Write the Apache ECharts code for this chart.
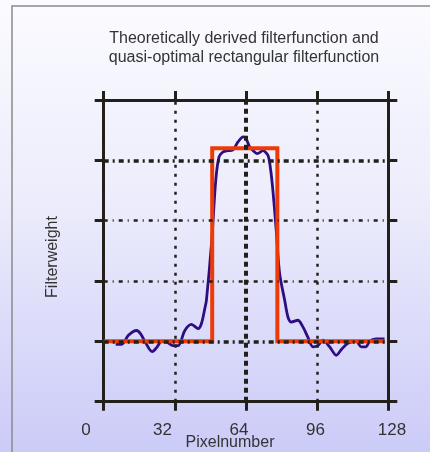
<!DOCTYPE html>
<html lang="en">
<head>
    <meta charset="UTF-8">
    <title>Filterfunction</title>
    <script src="https://cdn.jsdelivr.net/npm/echarts@6/dist/echarts.min.js"></script>
    <style>
        body { margin: 0; padding: 0; }
        #chart {
            width: 430px;
            height: 452px;
            background: linear-gradient(to bottom, #fbfbff 0%, #ececfc 45%, #cbcbf8 100%);
        }
    </style>
</head>
<body>
    <div id="chart"></div>
    <script>
        // data
        var xTicks = [0, 32, 64, 96, 128];
        var gridX = [32, 64, 96];
        var gridY = [0, 1, 2, 3];

        // theoretically derived filterfunction
        var theoX = [5.4, 8.1, 11.1, 14.8, 16.7, 18.5, 21.8, 23.9, 26.0, 28.3, 31.2, 33.5, 36.5, 39.5, 42.5, 44.0,
            45.5, 46.2, 48.6, 50.4, 51.9, 53.7, 55.8, 58.0, 60.3, 62.7, 63.9, 65.7, 67.5, 69.1, 71.6, 73.9,
            75.1, 76.1, 77.6, 79.1, 81.4, 82.9, 84.4, 87.3, 89.6, 91.8, 94.1, 96.3, 98.6, 101.6, 104.6, 107.0,
            109.8, 113.6, 115.8, 118.0, 119.5, 122.5, 126.3];
        var theoY = [-0.05, -0.05, 0.10, 0.18, 0.12, 0.00, -0.17, -0.10, 0.00, -0.01, -0.07, -0.07, 0.18, 0.28, 0.21, 0.30,
            0.55, 0.68, 1.67, 2.67, 3.06, 3.14, 3.16, 3.17, 3.30, 3.39, 3.37, 3.22, 3.15, 3.11, 3.16, 3.08,
            2.84, 2.50, 1.84, 1.13, 0.68, 0.40, 0.32, 0.35, 0.24, 0.07, -0.09, -0.07, 0.02, -0.09, -0.23, -0.13,
            -0.03, 0.00, -0.09, -0.09, 0.00, 0.04, 0.04];

        // quasi-optimal rectangular filterfunction
        var rectX = [0, 48.8, 48.8, 78.1, 78.1, 126.3];
        var rectY = [0, 0, 3.2, 3.2, 0, 0];

        var ink = '#231f1a';
        var myChart = echarts.init(document.getElementById('chart'));

        function pairs(xs, ys) {
            return xs.map(function (x, i) { return [x, ys[i]]; });
        }

        var frameAxis = {
            min: 0, max: 128, interval: 32,
            axisLine: { show: true, onZero: false, lineStyle: { color: ink, width: 3 } },
            axisTick: { show: true, inside: false, length: 9, lineStyle: { color: ink, width: 3 } },
            axisLabel: { show: false },
            splitLine: { show: false }
        };
        var frameYAxis = {
            type: 'value', min: -1, max: 4, interval: 1,
            axisLine: { show: true, onZero: false, lineStyle: { color: ink, width: 3 } },
            axisTick: { show: true, inside: false, length: 9, lineStyle: { color: ink, width: 3 } },
            axisLabel: { show: false },
            splitLine: { show: false }
        };

        var gridLines = [];
        gridX.forEach(function (v) {
            gridLines.push({
                xAxis: v,
                lineStyle: v === 64 ? { color: ink, width: 4, type: [5, 4] } : { color: ink, width: 2.5, type: [3, 6] }
            });
        });
        gridY.forEach(function (v) {
            gridLines.push({
                yAxis: v,
                lineStyle: (v === 0 || v === 3) ? { color: ink, width: 3.5, type: [5, 4, 2, 4] } : { color: ink, width: 2.5, type: [4, 5, 1, 5] }
            });
        });

        myChart.setOption({
            backgroundColor: 'transparent',
            animation: false,
            title: {
                text: 'Theoretically derived filterfunction and\nquasi-optimal rectangular filterfunction',
                left: 239,
                top: 24,
                textAlign: 'center',
                textStyle: {
                    fontFamily: 'Liberation Sans, Arial',
                    fontWeight: 'normal',
                    fontSize: 16,
                    lineHeight: 19,
                    color: '#333333'
                }
            },
            grid: [
                { left: 103.7, right: 41.7, top: 100, bottom: 50.3 },
                { left: 86, right: 38, top: 100, bottom: 50.3 }
            ],
            xAxis: [
                Object.assign({ type: 'value', gridIndex: 0, position: 'bottom' }, frameAxis),
                Object.assign({ type: 'value', gridIndex: 0, position: 'top' }, frameAxis),
                {
                    type: 'value', gridIndex: 1, min: 0, max: 128, interval: 32,
                    axisLine: { show: false }, axisTick: { show: false }, splitLine: { show: false },
                    axisLabel: {
                        margin: 20,
                        fontFamily: 'Liberation Sans, Arial',
                        fontSize: 17,
                        color: '#333333',
                        formatter: function (v) { return xTicks.indexOf(v) >= 0 ? String(v) : ''; }
                    }
                }
            ],
            yAxis: [
                Object.assign({ gridIndex: 0, position: 'left' }, frameYAxis),
                Object.assign({ gridIndex: 0, position: 'right' }, frameYAxis),
                { type: 'value', gridIndex: 1, min: -1, max: 4, show: false }
            ],
            graphic: [
                {
                    type: 'rect', silent: true, z: 0,
                    shape: { x: 12, y: 6, width: 430, height: 460 },
                    style: { fill: 'none', stroke: '#8a8a8a', lineWidth: 1.5 }
                },
                {
                    type: 'text', x: 230, y: 443, silent: true,
                    style: {
                        text: 'Pixelnumber', align: 'center', verticalAlign: 'middle',
                        font: '16px "Liberation Sans", Arial', fill: '#333333'
                    }
                },
                {
                    type: 'text', x: 53, y: 257, rotation: Math.PI / 2, silent: true,
                    style: {
                        text: 'Filterweight', align: 'center', verticalAlign: 'middle',
                        font: '16px "Liberation Sans", Arial', fill: '#333333'
                    }
                }
            ],
            series: [
                {
                    type: 'line', xAxisIndex: 0, yAxisIndex: 0, data: [], z: 1,
                    markLine: {
                        silent: true, symbol: 'none', animation: false,
                        label: { show: false },
                        data: gridLines
                    }
                },
                {
                    name: 'theoretical',
                    type: 'line', xAxisIndex: 0, yAxisIndex: 0, z: 3,
                    data: pairs(theoX, theoY),
                    smooth: 0.3,
                    symbol: 'none',
                    lineStyle: { color: '#2e0c82', width: 2.8 }
                },
                {
                    name: 'rectangular',
                    type: 'line', xAxisIndex: 0, yAxisIndex: 0, z: 4,
                    data: pairs(rectX, rectY),
                    symbol: 'none',
                    lineStyle: { color: '#ee3a06', width: 4, join: 'miter' }
                }
            ]
        });
    </script>
</body>
</html>
